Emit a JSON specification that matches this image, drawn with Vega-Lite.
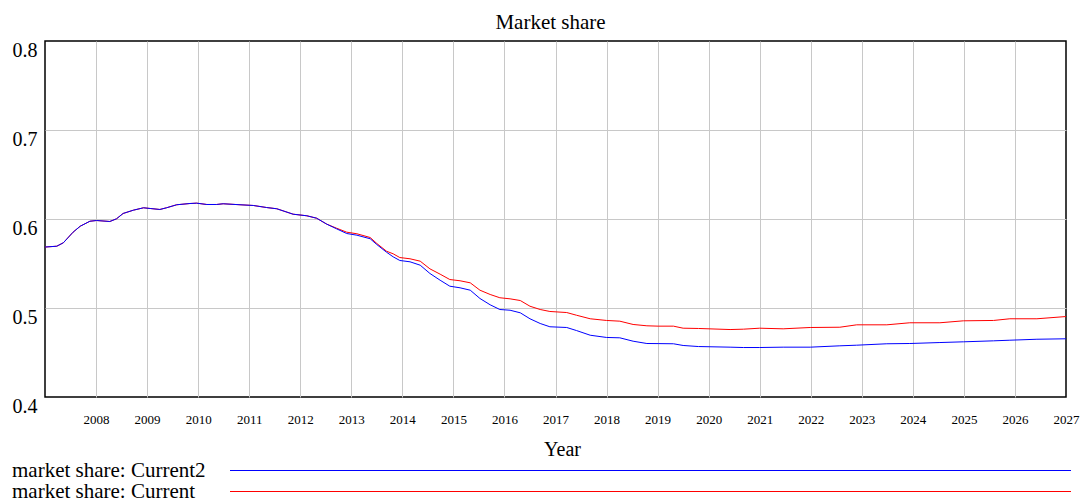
{
  "$schema": "https://vega.github.io/schema/vega-lite/v6.json",
  "autosize": {"type": "none"},
  "padding": {"left": 45, "top": 41, "right": 16, "bottom": 107},
  "width": 1021,
  "height": 356,
  "background": "white",
  "config": {
    "font": "Liberation Serif",
    "view": {"stroke": "black", "strokeWidth": 1.5}
  },
  "title": {
    "text": "Market share",
    "font": "Liberation Serif",
    "fontSize": 21,
    "fontWeight": "normal",
    "color": "black",
    "baseline": "alphabetic",
    "offset": 13,
    "dx": -5,
    "dy": 23
  },
  "data": {
    "values": [
      {"year": 2007.00, "value": 0.5685, "series": "market share: Current2"},
      {"year": 2007.23, "value": 0.5694, "series": "market share: Current2"},
      {"year": 2007.36, "value": 0.5733, "series": "market share: Current2"},
      {"year": 2007.55, "value": 0.5852, "series": "market share: Current2"},
      {"year": 2007.69, "value": 0.5919, "series": "market share: Current2"},
      {"year": 2007.88, "value": 0.5975, "series": "market share: Current2"},
      {"year": 2008.01, "value": 0.5983, "series": "market share: Current2"},
      {"year": 2008.27, "value": 0.5972, "series": "market share: Current2"},
      {"year": 2008.40, "value": 0.6002, "series": "market share: Current2"},
      {"year": 2008.53, "value": 0.6062, "series": "market share: Current2"},
      {"year": 2008.73, "value": 0.6099, "series": "market share: Current2"},
      {"year": 2008.93, "value": 0.6126, "series": "market share: Current2"},
      {"year": 2009.06, "value": 0.6118, "series": "market share: Current2"},
      {"year": 2009.25, "value": 0.6107, "series": "market share: Current2"},
      {"year": 2009.38, "value": 0.6126, "series": "market share: Current2"},
      {"year": 2009.58, "value": 0.6160, "series": "market share: Current2"},
      {"year": 2009.84, "value": 0.6174, "series": "market share: Current2"},
      {"year": 2009.97, "value": 0.6178, "series": "market share: Current2"},
      {"year": 2010.17, "value": 0.6163, "series": "market share: Current2"},
      {"year": 2010.36, "value": 0.6163, "series": "market share: Current2"},
      {"year": 2010.49, "value": 0.6171, "series": "market share: Current2"},
      {"year": 2010.82, "value": 0.6160, "series": "market share: Current2"},
      {"year": 2011.08, "value": 0.6152, "series": "market share: Current2"},
      {"year": 2011.34, "value": 0.6129, "series": "market share: Current2"},
      {"year": 2011.54, "value": 0.6115, "series": "market share: Current2"},
      {"year": 2011.86, "value": 0.6054, "series": "market share: Current2"},
      {"year": 2012.13, "value": 0.6036, "series": "market share: Current2"},
      {"year": 2012.32, "value": 0.6009, "series": "market share: Current2"},
      {"year": 2012.52, "value": 0.5942, "series": "market share: Current2"},
      {"year": 2012.71, "value": 0.5890, "series": "market share: Current2"},
      {"year": 2012.91, "value": 0.5837, "series": "market share: Current2"},
      {"year": 2013.11, "value": 0.5818, "series": "market share: Current2"},
      {"year": 2013.37, "value": 0.5778, "series": "market share: Current2"},
      {"year": 2013.50, "value": 0.5713, "series": "market share: Current2"},
      {"year": 2013.69, "value": 0.5627, "series": "market share: Current2"},
      {"year": 2013.82, "value": 0.5575, "series": "market share: Current2"},
      {"year": 2013.95, "value": 0.5534, "series": "market share: Current2"},
      {"year": 2014.15, "value": 0.5519, "series": "market share: Current2"},
      {"year": 2014.35, "value": 0.5481, "series": "market share: Current2"},
      {"year": 2014.54, "value": 0.5388, "series": "market share: Current2"},
      {"year": 2014.74, "value": 0.5312, "series": "market share: Current2"},
      {"year": 2014.93, "value": 0.5245, "series": "market share: Current2"},
      {"year": 2015.13, "value": 0.5227, "series": "market share: Current2"},
      {"year": 2015.33, "value": 0.5200, "series": "market share: Current2"},
      {"year": 2015.52, "value": 0.5107, "series": "market share: Current2"},
      {"year": 2015.72, "value": 0.5036, "series": "market share: Current2"},
      {"year": 2015.91, "value": 0.4983, "series": "market share: Current2"},
      {"year": 2016.11, "value": 0.4975, "series": "market share: Current2"},
      {"year": 2016.31, "value": 0.4946, "series": "market share: Current2"},
      {"year": 2016.50, "value": 0.4879, "series": "market share: Current2"},
      {"year": 2016.70, "value": 0.4826, "series": "market share: Current2"},
      {"year": 2016.89, "value": 0.4789, "series": "market share: Current2"},
      {"year": 2017.22, "value": 0.4781, "series": "market share: Current2"},
      {"year": 2017.41, "value": 0.4747, "series": "market share: Current2"},
      {"year": 2017.68, "value": 0.4694, "series": "market share: Current2"},
      {"year": 2018.00, "value": 0.4669, "series": "market share: Current2"},
      {"year": 2018.26, "value": 0.4665, "series": "market share: Current2"},
      {"year": 2018.52, "value": 0.4627, "series": "market share: Current2"},
      {"year": 2018.79, "value": 0.4601, "series": "market share: Current2"},
      {"year": 2019.01, "value": 0.4600, "series": "market share: Current2"},
      {"year": 2019.31, "value": 0.4598, "series": "market share: Current2"},
      {"year": 2019.50, "value": 0.4579, "series": "market share: Current2"},
      {"year": 2019.80, "value": 0.4567, "series": "market share: Current2"},
      {"year": 2020.42, "value": 0.4560, "series": "market share: Current2"},
      {"year": 2020.68, "value": 0.4556, "series": "market share: Current2"},
      {"year": 2021.00, "value": 0.4556, "series": "market share: Current2"},
      {"year": 2021.46, "value": 0.4560, "series": "market share: Current2"},
      {"year": 2021.99, "value": 0.4560, "series": "market share: Current2"},
      {"year": 2022.57, "value": 0.4575, "series": "market share: Current2"},
      {"year": 2022.90, "value": 0.4582, "series": "market share: Current2"},
      {"year": 2023.49, "value": 0.4598, "series": "market share: Current2"},
      {"year": 2023.94, "value": 0.4601, "series": "market share: Current2"},
      {"year": 2024.53, "value": 0.4612, "series": "market share: Current2"},
      {"year": 2024.99, "value": 0.4620, "series": "market share: Current2"},
      {"year": 2025.58, "value": 0.4631, "series": "market share: Current2"},
      {"year": 2025.90, "value": 0.4638, "series": "market share: Current2"},
      {"year": 2026.43, "value": 0.4649, "series": "market share: Current2"},
      {"year": 2027.00, "value": 0.4654, "series": "market share: Current2"},

      {"year": 2007.00, "value": 0.5685, "series": "market share: Current"},
      {"year": 2007.23, "value": 0.5694, "series": "market share: Current"},
      {"year": 2007.36, "value": 0.5733, "series": "market share: Current"},
      {"year": 2007.55, "value": 0.5852, "series": "market share: Current"},
      {"year": 2007.69, "value": 0.5919, "series": "market share: Current"},
      {"year": 2007.88, "value": 0.5975, "series": "market share: Current"},
      {"year": 2008.01, "value": 0.5983, "series": "market share: Current"},
      {"year": 2008.27, "value": 0.5972, "series": "market share: Current"},
      {"year": 2008.40, "value": 0.6002, "series": "market share: Current"},
      {"year": 2008.53, "value": 0.6062, "series": "market share: Current"},
      {"year": 2008.73, "value": 0.6099, "series": "market share: Current"},
      {"year": 2008.93, "value": 0.6126, "series": "market share: Current"},
      {"year": 2009.06, "value": 0.6118, "series": "market share: Current"},
      {"year": 2009.25, "value": 0.6107, "series": "market share: Current"},
      {"year": 2009.38, "value": 0.6126, "series": "market share: Current"},
      {"year": 2009.58, "value": 0.6160, "series": "market share: Current"},
      {"year": 2009.84, "value": 0.6174, "series": "market share: Current"},
      {"year": 2009.97, "value": 0.6178, "series": "market share: Current"},
      {"year": 2010.17, "value": 0.6163, "series": "market share: Current"},
      {"year": 2010.36, "value": 0.6163, "series": "market share: Current"},
      {"year": 2010.49, "value": 0.6171, "series": "market share: Current"},
      {"year": 2010.82, "value": 0.6160, "series": "market share: Current"},
      {"year": 2011.08, "value": 0.6152, "series": "market share: Current"},
      {"year": 2011.34, "value": 0.6129, "series": "market share: Current"},
      {"year": 2011.54, "value": 0.6115, "series": "market share: Current"},
      {"year": 2011.86, "value": 0.6054, "series": "market share: Current"},
      {"year": 2012.13, "value": 0.6036, "series": "market share: Current"},
      {"year": 2012.32, "value": 0.6009, "series": "market share: Current"},
      {"year": 2012.52, "value": 0.5942, "series": "market share: Current"},
      {"year": 2012.71, "value": 0.5897, "series": "market share: Current"},
      {"year": 2012.91, "value": 0.5852, "series": "market share: Current"},
      {"year": 2013.11, "value": 0.5834, "series": "market share: Current"},
      {"year": 2013.37, "value": 0.5792, "series": "market share: Current"},
      {"year": 2013.50, "value": 0.5725, "series": "market share: Current"},
      {"year": 2013.69, "value": 0.5638, "series": "market share: Current"},
      {"year": 2013.82, "value": 0.5609, "series": "market share: Current"},
      {"year": 2013.95, "value": 0.5567, "series": "market share: Current"},
      {"year": 2014.15, "value": 0.5553, "series": "market share: Current"},
      {"year": 2014.35, "value": 0.5526, "series": "market share: Current"},
      {"year": 2014.54, "value": 0.5440, "series": "market share: Current"},
      {"year": 2014.74, "value": 0.5380, "series": "market share: Current"},
      {"year": 2014.93, "value": 0.5320, "series": "market share: Current"},
      {"year": 2015.13, "value": 0.5306, "series": "market share: Current"},
      {"year": 2015.33, "value": 0.5283, "series": "market share: Current"},
      {"year": 2015.52, "value": 0.5200, "series": "market share: Current"},
      {"year": 2015.72, "value": 0.5152, "series": "market share: Current"},
      {"year": 2015.91, "value": 0.5115, "series": "market share: Current"},
      {"year": 2016.11, "value": 0.5103, "series": "market share: Current"},
      {"year": 2016.31, "value": 0.5084, "series": "market share: Current"},
      {"year": 2016.50, "value": 0.5020, "series": "market share: Current"},
      {"year": 2016.70, "value": 0.4983, "series": "market share: Current"},
      {"year": 2016.89, "value": 0.4961, "series": "market share: Current"},
      {"year": 2017.22, "value": 0.4949, "series": "market share: Current"},
      {"year": 2017.41, "value": 0.4919, "series": "market share: Current"},
      {"year": 2017.68, "value": 0.4879, "series": "market share: Current"},
      {"year": 2018.00, "value": 0.4860, "series": "market share: Current"},
      {"year": 2018.26, "value": 0.4852, "series": "market share: Current"},
      {"year": 2018.52, "value": 0.4815, "series": "market share: Current"},
      {"year": 2018.79, "value": 0.4800, "series": "market share: Current"},
      {"year": 2019.01, "value": 0.4796, "series": "market share: Current"},
      {"year": 2019.31, "value": 0.4796, "series": "market share: Current"},
      {"year": 2019.50, "value": 0.4773, "series": "market share: Current"},
      {"year": 2019.80, "value": 0.4770, "series": "market share: Current"},
      {"year": 2020.42, "value": 0.4758, "series": "market share: Current"},
      {"year": 2020.68, "value": 0.4762, "series": "market share: Current"},
      {"year": 2021.00, "value": 0.4773, "series": "market share: Current"},
      {"year": 2021.46, "value": 0.4766, "series": "market share: Current"},
      {"year": 2021.99, "value": 0.4781, "series": "market share: Current"},
      {"year": 2022.57, "value": 0.4784, "series": "market share: Current"},
      {"year": 2022.90, "value": 0.4811, "series": "market share: Current"},
      {"year": 2023.49, "value": 0.4811, "series": "market share: Current"},
      {"year": 2023.94, "value": 0.4834, "series": "market share: Current"},
      {"year": 2024.53, "value": 0.4834, "series": "market share: Current"},
      {"year": 2024.99, "value": 0.4856, "series": "market share: Current"},
      {"year": 2025.58, "value": 0.4860, "series": "market share: Current"},
      {"year": 2025.90, "value": 0.4879, "series": "market share: Current"},
      {"year": 2026.43, "value": 0.4879, "series": "market share: Current"},
      {"year": 2027.00, "value": 0.4904, "series": "market share: Current"}
    ]
  },
  "encoding": {
    "x": {
      "field": "year",
      "type": "quantitative",
      "scale": {"domain": [2007, 2027], "nice": false, "zero": false},
      "axis": {
        "title": "Year",
        "titleFont": "Liberation Serif",
        "titleFontSize": 20,
        "titleFontWeight": "normal",
        "titleColor": "black",
        "titleBaseline": "alphabetic",
        "titleY": 58,
        "titleX": 517,
        "values": [2008, 2009, 2010, 2011, 2012, 2013, 2014, 2015, 2016, 2017, 2018, 2019, 2020, 2021, 2022, 2023, 2024, 2025, 2026, 2027],
        "format": "d",
        "labelFont": "Liberation Serif",
        "labelFontSize": 13,
        "labelColor": "black",
        "labelBaseline": "alphabetic",
        "labelPadding": 26,
        "labelFlush": false,
        "labelOverlap": false,
        "ticks": false,
        "tickSize": 0,
        "domain": false,
        "grid": true,
        "gridColor": "#c8c8c8",
        "gridWidth": 1,
        "gridOpacity": {"condition": {"test": "datum.value >= 2027", "value": 0}, "value": 1}
      }
    },
    "y": {
      "field": "value",
      "type": "quantitative",
      "scale": {"domain": [0.4, 0.8], "nice": false, "zero": false},
      "axis": {
        "title": null,
        "values": [0.4, 0.5, 0.6, 0.7, 0.8],
        "format": ".1f",
        "labelFont": "Liberation Serif",
        "labelFontSize": 20,
        "labelColor": "black",
        "labelBaseline": "alphabetic",
        "labelOffset": 15,
        "labelPadding": 8,
        "labelOverlap": false,
        "labelFlush": false,
        "ticks": false,
        "tickSize": 0,
        "domain": false,
        "grid": true,
        "gridColor": "#c8c8c8",
        "gridWidth": 1,
        "gridOpacity": {"condition": {"test": "datum.value <= 0.4 || datum.value >= 0.8", "value": 0}, "value": 1}
      }
    },
    "color": {
      "field": "series",
      "type": "nominal",
      "scale": {
        "domain": ["market share: Current2", "market share: Current"],
        "range": ["#0000ff", "#ff0000"]
      },
      "legend": {
        "title": null,
        "orient": "none",
        "legendX": -33,
        "legendY": 419,
        "direction": "vertical",
        "padding": 0,
        "symbolType": "M0,0H84.1",
        "symbolSize": 400,
        "symbolStrokeWidth": 1,
        "symbolOffset": 207.5,
        "labelOffset": -228.5,
        "labelAlign": "left",
        "labelBaseline": "middle",
        "labelFont": "Liberation Serif",
        "labelFontSize": 21,
        "labelColor": "black",
        "labelLimit": 0,
        "rowPadding": -1
      }
    }
  },
  "layer": [
    {
      "transform": [{"filter": "datum.series == 'market share: Current'"}],
      "mark": {"type": "line", "strokeWidth": 1, "clip": false}
    },
    {
      "transform": [{"filter": "datum.series == 'market share: Current2'"}],
      "mark": {"type": "line", "strokeWidth": 1, "clip": false}
    }
  ]
}
